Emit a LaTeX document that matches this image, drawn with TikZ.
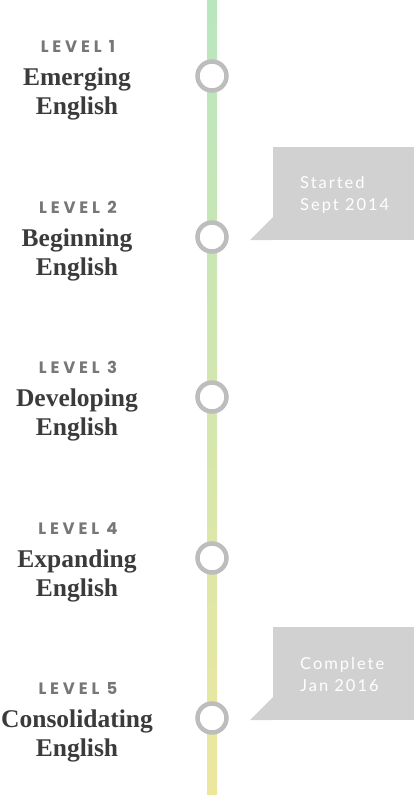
\documentclass[tikz,border=0pt]{standalone}
\usepackage{fontspec}
\usepackage{tikz}
\usetikzlibrary{positioning}
\setmainfont{Liberation Serif}
\newfontfamily\lvlfont{Poppins}[LetterSpace=23]
\newfontfamily\notefont{Lato}[LetterSpace=12]
\definecolor{bartop}{HTML}{B9E6BF}
\definecolor{barbot}{HTML}{EDE79E}
\definecolor{ringgray}{HTML}{BDBDBD}
\definecolor{lvlgray}{HTML}{777777}
\definecolor{namegray}{HTML}{3B3B3B}
\definecolor{notebg}{HTML}{D1D1D2}
\tikzset{
  lvl/.style   = {anchor=base, text=lvlgray, inner sep=0pt,
                  font=\lvlfont\bfseries\fontsize{16.5}{16.5}\selectfont},
  stage/.style = {anchor=base, align=center, text=namegray, inner sep=0pt,
                  font=\bfseries\fontsize{25.5}{29}\selectfont},
  ring/.style  = {circle, draw=ringgray, line width=4.5pt, fill=white,
                  minimum size=29pt, inner sep=0pt},
  note/.style  = {fill=notebg, minimum width=141pt, minimum height=93pt,
                  inner sep=0pt},
  notetxt/.style = {anchor=base west, align=left, text=white, inner sep=0pt,
                  font=\notefont\fontsize{16.5}{22}\selectfont},
}
\begin{document}
\begin{tikzpicture}[x=1pt, y=-1pt]
  \useasboundingbox (0,0) rectangle (414,795);
  \shade[top color=bartop, bottom color=barbot] (207,0) rectangle (217,795);

  \node[ring] (r1) at (212,76) {};
  \node[ring] (r2) at (212,237) {};
  \node[ring] (r3) at (212,397) {};
  \node[ring] (r4) at (212,558) {};
  \node[ring] (r5) at (212,718) {};

  \node[lvl] (l1) at (78,52) {LEVEL 1};
  \node[stage] (s1) at (77,114) {Emerging\\English};
  \node[lvl] (l2) at (78,213) {LEVEL 2};
  \node[stage] (s2) at (77,275) {Beginning\\English};
  \node[lvl] (l3) at (78,373) {LEVEL 3};
  \node[stage] (s3) at (77,435) {Developing\\English};
  \node[lvl] (l4) at (78,534) {LEVEL 4};
  \node[stage] (s4) at (77,596) {Expanding\\English};
  \node[lvl] (l5) at (78,694) {LEVEL 5};
  \node[stage] (s5) at (77,756) {Consolidating\\English};

  \node[note] (n1) at (343.5,193.5) {};
  \fill[notebg] (n1.south west) -- ++(-23,0) -- ([yshift=23pt]n1.south west) -- cycle;
  \node[notetxt] (t1) at (300,210) {Started\\Sept 2014};

  \node[note] (n2) at (343.5,673.5) {};
  \fill[notebg] (n2.south west) -- ++(-23,0) -- ([yshift=23pt]n2.south west) -- cycle;
  \node[notetxt] (t2) at (300,691) {Complete\\Jan 2016};
\end{tikzpicture}
\end{document}
